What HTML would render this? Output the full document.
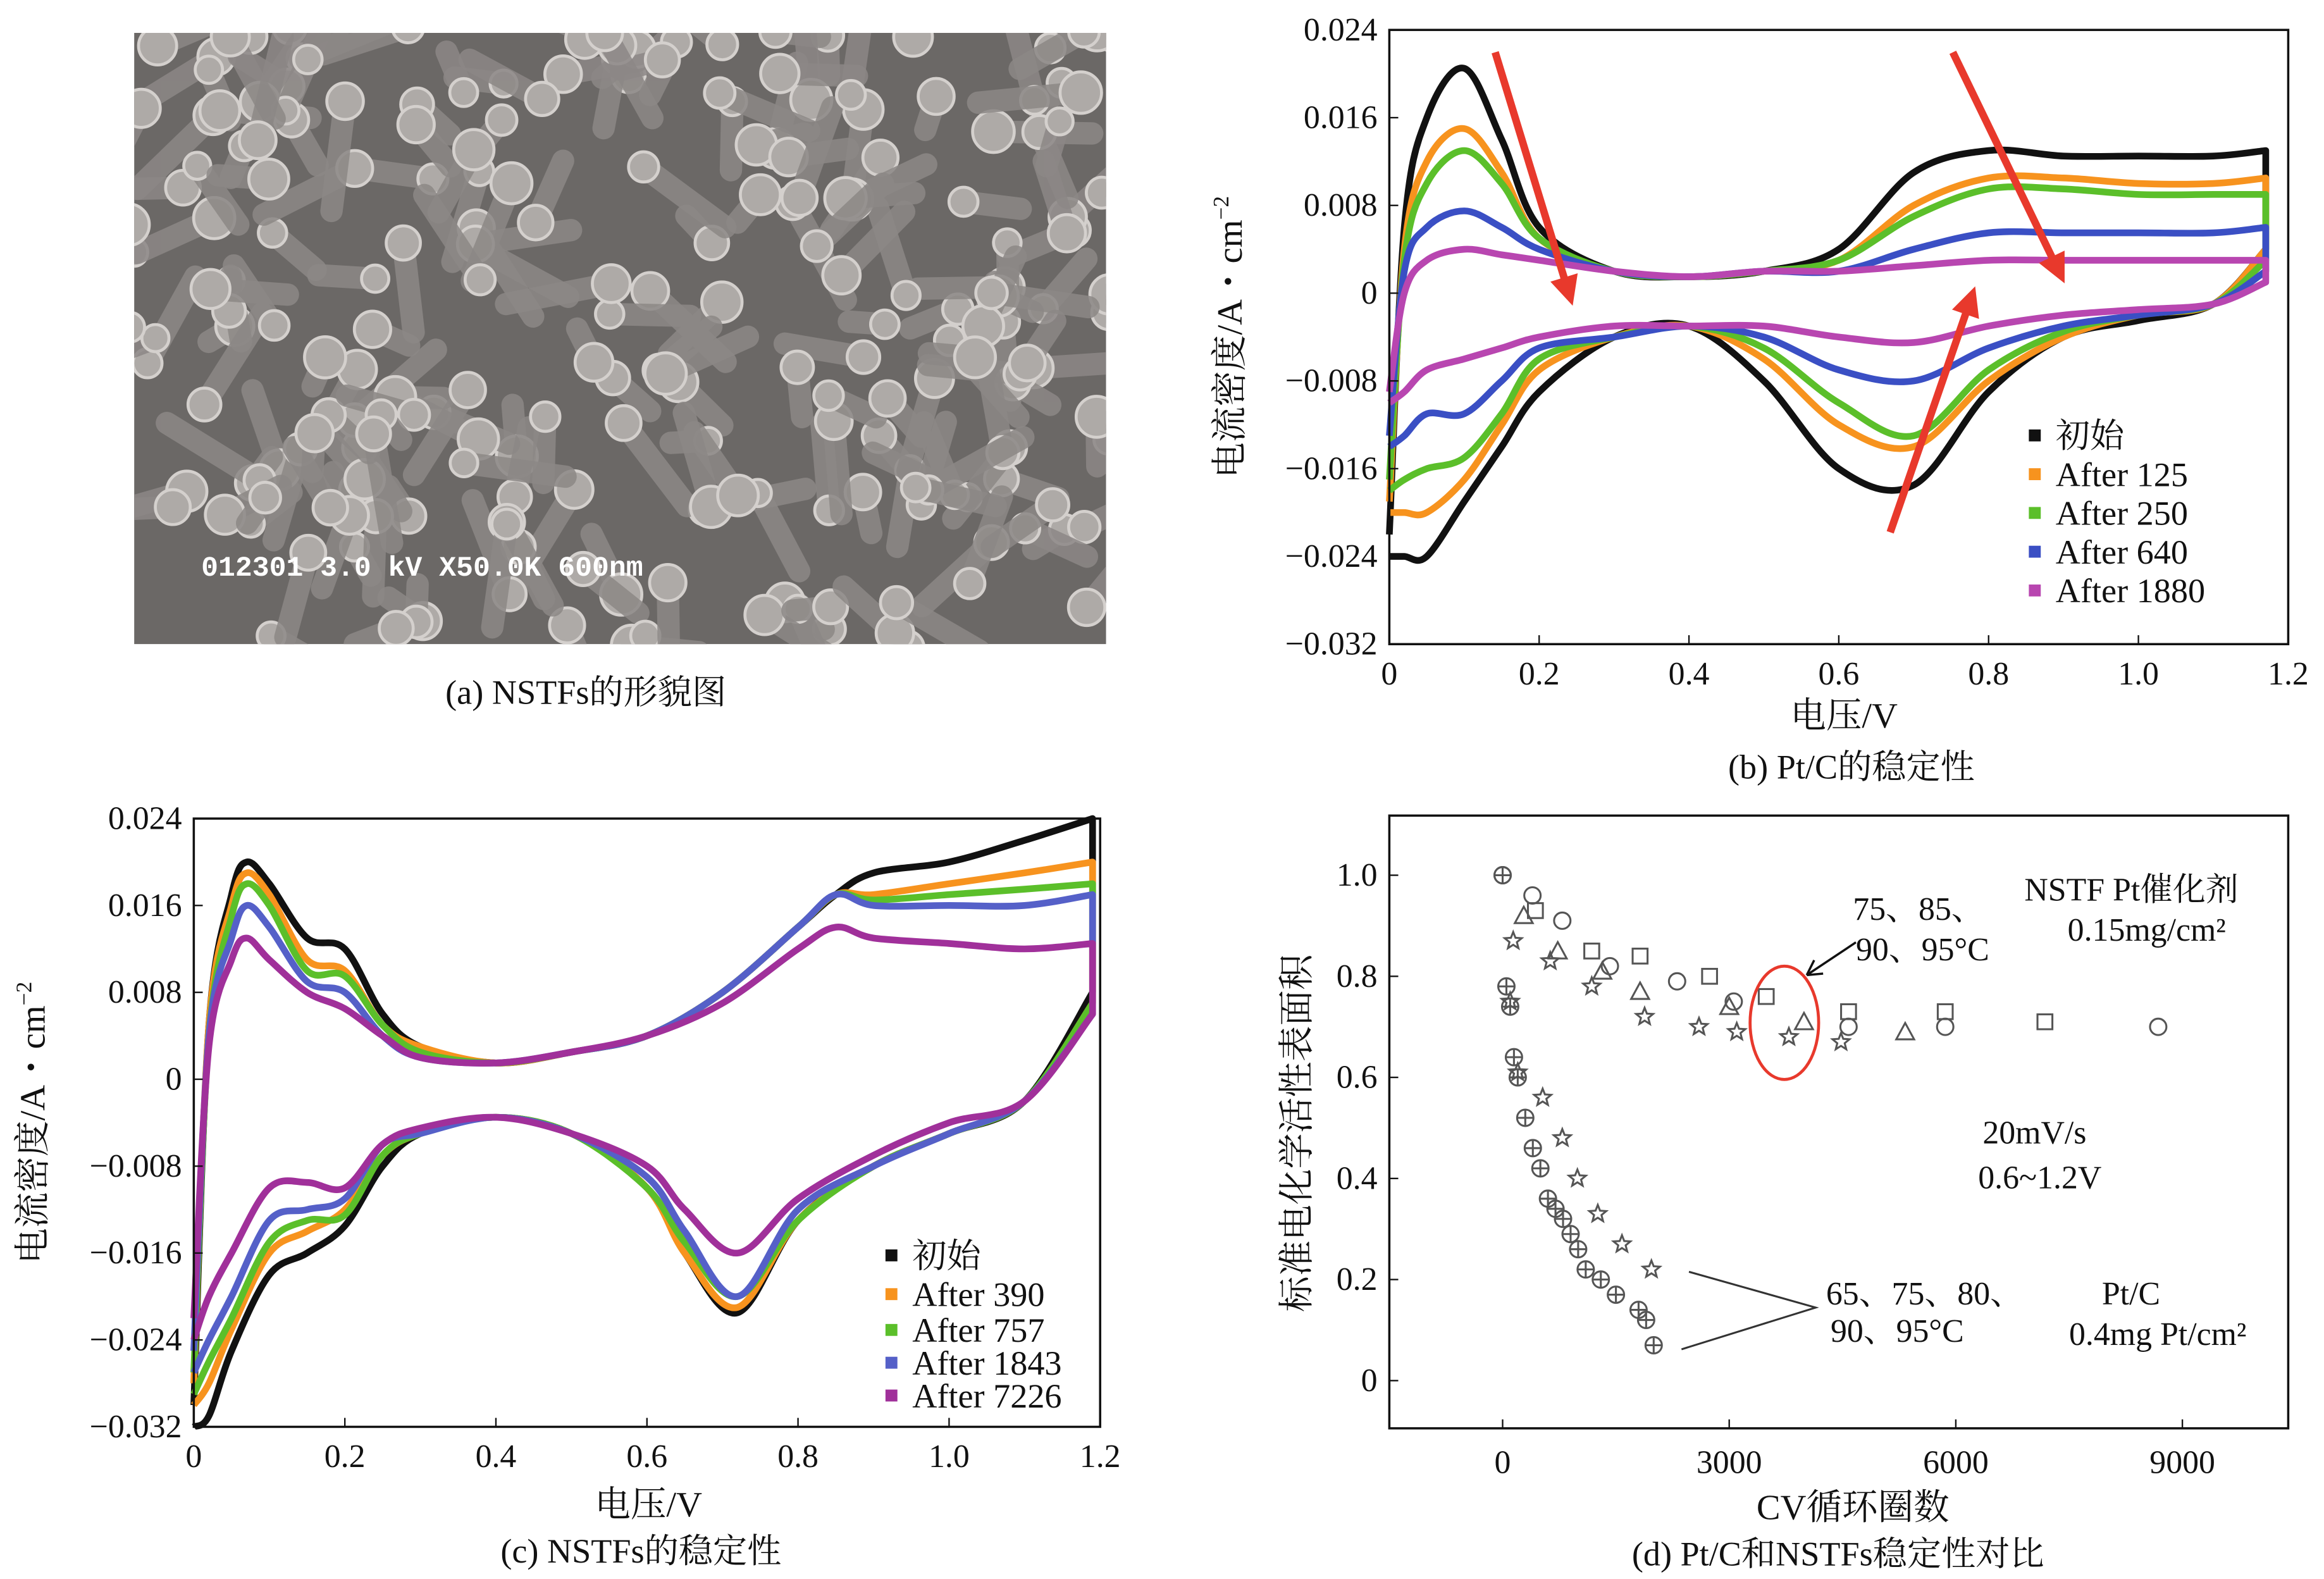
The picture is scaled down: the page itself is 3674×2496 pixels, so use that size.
<!DOCTYPE html>
<html><head><meta charset="utf-8"><style>
html,body{margin:0;padding:0;background:#fff}
svg{display:block}
text{font-family:"Liberation Serif","Noto Serif CJK SC",serif;fill:#111}
</style></head><body>
<svg id="fig" width="3674" height="2496" viewBox="0 0 1559 1059" xmlns="http://www.w3.org/2000/svg">
<defs><clipPath id="semclip"><rect x="90" y="22" width="652" height="410"/></clipPath></defs>
<g id="sem" clip-path="url(#semclip)"></g>
<text x="393" y="472" font-size="23" text-anchor="middle">(a) NSTFs的形貌图</text>
<g id="pb"></g>
<g id="pc"></g>
<g id="pd"></g>
</svg>
<script>
const NS="http://www.w3.org/2000/svg";
function mk(p,t,a,txt){const e=document.createElementNS(NS,t);for(const k in a)e.setAttribute(k,a[k]);if(txt!==undefined)e.textContent=txt;p.appendChild(e);return e;}

// ---------- Panel b data ----------
const bV=[0,0.02,0.05,0.1,0.15,0.2,0.3,0.4,0.5,0.6,0.7,0.8,0.9,1.0,1.1,1.17];
const bLabels=["初始","After 125","After 250","After 640","After 1880"];
const bColors=["#111111","#f7931e","#5bbf2a","#3a4fc4","#b846b0"];
const bBlackUp=[-0.022,0.006,0.016,0.0205,0.014,0.006,0.002,0.0015,0.002,0.004,0.011,0.013,0.0125,0.0125,0.0125,0.013];
const bBlackDn=[-0.024,-0.024,-0.024,-0.019,-0.014,-0.009,-0.004,-0.003,-0.008,-0.016,-0.0175,-0.009,-0.004,-0.0025,-0.001,0.004];
const bOrangeUp=[-0.019,0.004,0.012,0.015,0.011,0.005,0.002,0.0015,0.002,0.003,0.008,0.0105,0.0105,0.010,0.010,0.0105];
const bOrangeDn=[-0.020,-0.020,-0.020,-0.017,-0.012,-0.007,-0.004,-0.003,-0.006,-0.012,-0.014,-0.008,-0.004,-0.002,-0.001,0.004];
const bGreenUp=[-0.017,0.003,0.010,0.013,0.010,0.005,0.002,0.0015,0.002,0.003,0.007,0.0095,0.0095,0.009,0.009,0.009];
const bGreenDn=[-0.018,-0.017,-0.016,-0.015,-0.011,-0.006,-0.004,-0.003,-0.005,-0.010,-0.013,-0.007,-0.0035,-0.002,-0.001,0.003];
const bBlueUp=[-0.013,0.002,0.006,0.0075,0.006,0.004,0.002,0.0015,0.002,0.002,0.004,0.0055,0.0055,0.0055,0.0055,0.006];
const bBlueDn=[-0.014,-0.013,-0.011,-0.011,-0.008,-0.005,-0.004,-0.003,-0.004,-0.007,-0.008,-0.005,-0.003,-0.002,-0.001,0.002];
const bPurpleUp=[-0.009,0.000,0.003,0.004,0.0035,0.003,0.002,0.0015,0.002,0.002,0.0025,0.003,0.003,0.003,0.003,0.003];
const bPurpleDn=[-0.010,-0.009,-0.007,-0.006,-0.005,-0.004,-0.003,-0.003,-0.003,-0.004,-0.0045,-0.003,-0.002,-0.0015,-0.001,0.001];

// ---------- Panel c data ----------
const cVup=[0,0.02,0.05,0.07,0.1,0.15,0.2,0.25,0.3,0.4,0.5,0.6,0.7,0.8,0.85,0.9,1.0,1.1,1.19];
const cVdn=[0,0.02,0.05,0.1,0.15,0.2,0.25,0.3,0.4,0.5,0.6,0.65,0.72,0.8,0.9,1.0,1.1,1.19];
const cLabels=["初始","After 390","After 757","After 1843","After 7226"];
const cColors=["#111111","#f7931e","#5bbf2a","#5560c8","#a0309a"];
const cBlackUp=[-0.030,0.005,0.017,0.020,0.018,0.013,0.012,0.006,0.003,0.0015,0.0025,0.004,0.008,0.014,0.017,0.019,0.020,0.022,0.024];
const cBlackDn=[-0.032,-0.031,-0.025,-0.018,-0.016,-0.0135,-0.008,-0.005,-0.0035,-0.005,-0.010,-0.016,-0.0215,-0.013,-0.008,-0.005,-0.002,0.008];
const cOrangeUp=[-0.028,0.005,0.016,0.019,0.017,0.011,0.010,0.005,0.003,0.0015,0.0025,0.004,0.008,0.014,0.017,0.017,0.018,0.019,0.020];
const cOrangeDn=[-0.030,-0.028,-0.023,-0.016,-0.014,-0.012,-0.007,-0.005,-0.0035,-0.005,-0.010,-0.016,-0.021,-0.013,-0.008,-0.005,-0.002,0.007];
const cGreenUp=[-0.027,0.004,0.015,0.018,0.016,0.010,0.0095,0.005,0.0025,0.0015,0.0025,0.004,0.008,0.014,0.017,0.0165,0.017,0.0175,0.018];
const cGreenDn=[-0.029,-0.026,-0.022,-0.015,-0.013,-0.0125,-0.007,-0.005,-0.0035,-0.005,-0.010,-0.015,-0.020,-0.013,-0.008,-0.005,-0.002,0.007];
const cBlueUp=[-0.025,0.004,0.013,0.016,0.014,0.009,0.008,0.004,0.002,0.0015,0.0025,0.004,0.008,0.014,0.017,0.016,0.016,0.016,0.017];
const cBlueDn=[-0.027,-0.024,-0.020,-0.013,-0.012,-0.011,-0.006,-0.005,-0.0035,-0.005,-0.009,-0.014,-0.020,-0.012,-0.008,-0.005,-0.002,0.006];
const cPurpleUp=[-0.022,0.003,0.011,0.013,0.011,0.008,0.0065,0.004,0.002,0.0015,0.0025,0.004,0.007,0.012,0.014,0.013,0.0125,0.012,0.0125];
const cPurpleDn=[-0.024,-0.020,-0.016,-0.010,-0.0095,-0.010,-0.006,-0.0045,-0.0035,-0.005,-0.008,-0.012,-0.016,-0.011,-0.007,-0.004,-0.002,0.006];

const cvXTicks=["0","0.2","0.4","0.6","0.8","1.0","1.2"];
const cvYTicks=[0.024,0.016,0.008,0,-0.008,-0.016,-0.024,-0.032];
const cvYTickLabels=["0.024","0.016","0.008","0","−0.008","−0.016","−0.024","−0.032"];

// ---------- Panel d data ----------
const dXTicks=[0,3000,6000,9000];
const dYTicks=[0,0.2,0.4,0.6,0.8,1.0];
const ptcCrossX=[0,50,100,150,200,300,400,500,600,700,800,900,1000,1100,1300,1500,1800,1900,2000];
const ptcCrossY=[1.0,0.78,0.74,0.64,0.6,0.52,0.46,0.42,0.36,0.34,0.32,0.29,0.26,0.22,0.2,0.17,0.14,0.12,0.07];
const ptcStarX=[100,200,530,790,990,1260,1580,1970];
const ptcStarY=[0.75,0.61,0.56,0.48,0.40,0.33,0.27,0.22];
const nCircX=[0,395,790,1420,2310,3060,4580,5860,8680];
const nCircY=[1.0,0.96,0.91,0.82,0.79,0.75,0.70,0.70,0.70];
const nSqX=[434,1180,1820,2740,3490,4580,5860,7180];
const nSqY=[0.93,0.85,0.84,0.80,0.76,0.73,0.73,0.71];
const nTriX=[280,730,1320,1820,3000,3990,5330];
const nTriY=[0.92,0.85,0.81,0.77,0.74,0.71,0.69];
const nStarX=[140,630,1180,1880,2600,3100,3790,4480];
const nStarY=[0.87,0.83,0.78,0.72,0.70,0.69,0.68,0.67];

// ---------- SEM decoration ----------
(function(){
 const g=document.getElementById('sem');
 mk(g,'rect',{x:90,y:22,width:652,height:410,fill:'#6b6866',});
 let s=7;function r(){s=(s*9301+49297)%233280;return s/233280;}
 for(let i=0;i<220;i++){const x=85+r()*665,y=18+r()*420,a=r()*6.28,l=20+r()*55;
  const l1=mk(g,'line',{x1:x,y1:y,x2:x+Math.cos(a)*l,y2:y+Math.sin(a)*l,stroke:'#8c8886','stroke-width':15,'stroke-linecap':'round','opacity':0.85});
  
  const c=mk(g,'circle',{cx:x,cy:y,r:9+r()*5,fill:'#aeaaa7',stroke:'#d4d0cd','stroke-width':2});
  }
 mk(g,'text',{x:135,y:386,'font-size':19,fill:'#fff',style:'fill:#fff;font-family:"Liberation Mono",monospace;font-weight:bold',},'012301 3.0 kV X50.0K  600nm');
})();

function smooth(pts){let d='M'+pts[0][0]+','+pts[0][1];
 for(let i=0;i<pts.length-1;i++){const p0=pts[Math.max(i-1,0)],p1=pts[i],p2=pts[i+1],p3=pts[Math.min(i+2,pts.length-1)];
  d+=' C'+(p1[0]+(p2[0]-p0[0])/6)+','+(p1[1]+(p2[1]-p0[1])/6)+' '+(p2[0]-(p3[0]-p1[0])/6)+','+(p2[1]-(p3[1]-p1[1])/6)+' '+p2[0]+','+p2[1];}
 return d;}

function cvPanel(id,box,series,vUp,vDn,labels,colors,legend,xl,cap){
 const g=document.getElementById(id);
 const X=v=>box.x0+(v/1.2)*(box.x1-box.x0);
 const Y=j=>box.y0+(0.024-j)/0.056*(box.y1-box.y0);
 series.forEach((s,i)=>{
  const up=vUp.map((v,k)=>[X(v),Y(s[0][k])]);
  const dn=vDn.map((v,k)=>[X(v),Y(s[1][k])]).reverse();
  const p=mk(g,'path',{d:smooth(up)+' L'+dn[0][0]+','+dn[0][1]+' '+smooth(dn).slice(1).replace(/^[^C]*/,''),fill:'none',stroke:colors[i],'stroke-width':4.5,'stroke-linejoin':'round'});
  
 });
 const fr=mk(g,'rect',{x:box.x0,y:box.y0,width:box.x1-box.x0,height:box.y1-box.y0,fill:'none',stroke:'#111','stroke-width':1.5});
 
 cvXTicks.forEach((t,i)=>{const x=X(i*0.2);
  mk(g,'line',{x1:x,y1:box.y1,x2:x,y2:box.y1-6,stroke:'#111'});
  const e=mk(g,'text',{x:x,y:box.y1+27,'font-size':22,'text-anchor':'middle'},t);
  });
 cvYTicks.forEach((t,i)=>{const y=Y(t);
  mk(g,'line',{x1:box.x0,y1:y,x2:box.x0+6,y2:y,stroke:'#111'});
  const e=mk(g,'text',{x:box.x0-8,y:y+7,'font-size':22,'text-anchor':'end'},cvYTickLabels[i]);
  });
 const xt=mk(g,'text',{x:xl[0],y:xl[1],'font-size':24,'text-anchor':'middle'},'电压/V');
 
 const yt=mk(g,'text',{transform:'translate('+xl[2]+','+((box.y0+box.y1)/2)+') rotate(-90)','font-size':24,'text-anchor':'middle'});
 
 yt.innerHTML='电流密度/A・cm<tspan dy="-9" font-size="15">−2</tspan>';
 labels.forEach((l,i)=>{const y=legend.y[i];
  const m=mk(g,'rect',{x:legend.x-4,y:y-4,width:8,height:8,fill:colors[i]});
  
  const t=mk(g,'text',{x:legend.x+14,y:y+8,'font-size':legend.fs},l);
  });
 const c=mk(g,'text',{x:cap[0],y:cap[1],'font-size':23,'text-anchor':'middle'},cap[2]);
 
 return g;
}

const gb=cvPanel('pb',{x0:932,x1:1535,y0:20,y1:432},
 [[bBlackUp,bBlackDn],[bOrangeUp,bOrangeDn],[bGreenUp,bGreenDn],[bBlueUp,bBlueDn],[bPurpleUp,bPurpleDn]],
 bV,bV,bLabels,bColors,{x:1365,y:[292,318,344,370,396],fs:23},[1237,488,833],[1242,522,'(b) Pt/C的稳定性']);
[[1003,35,1055,205],[1310,35,1385,190],[1268,357,1325,192]].forEach(a=>{
 const ang=Math.atan2(a[3]-a[1],a[2]-a[0]);
 const l=mk(gb,'line',{x1:a[0],y1:a[1],x2:a[2]-Math.cos(ang)*14,y2:a[3]-Math.sin(ang)*14,stroke:'#e8392c','stroke-width':5});
 
 const h=mk(gb,'polygon',{points:[a[2],a[3],a[2]-Math.cos(ang-0.45)*22,a[3]-Math.sin(ang-0.45)*22,a[2]-Math.cos(ang+0.45)*22,a[3]-Math.sin(ang+0.45)*22].join(','),fill:'#e8392c'});
 
});

cvPanel('pc',{x0:130,x1:738,y0:549,y1:957},
 [[cBlackUp,cBlackDn],[cOrangeUp,cOrangeDn],[cGreenUp,cGreenDn],[cBlueUp,cBlueDn],[cPurpleUp,cPurpleDn]],
 cVup,cVdn,cLabels,cColors,{x:598,y:[842,868,892,914,936],fs:23},[435,1017,30],[430,1048,'(c) NSTFs的稳定性']);
</script>
<script>
(function(){
 const g=document.getElementById('pd');
 const box={x0:932,x1:1535,y0:547,y1:958};
 const X=c=>1008+c/3000*152, Y=v=>926-v*339;
 const fr=mk(g,'rect',{x:box.x0,y:box.y0,width:box.x1-box.x0,height:box.y1-box.y0,fill:'none',stroke:'#111','stroke-width':1.5});
 
 dXTicks.forEach(t=>{const x=X(t);mk(g,'line',{x1:x,y1:box.y1,x2:x,y2:box.y1-6,stroke:'#111'});
  const e=mk(g,'text',{x:x,y:box.y1+30,'font-size':22,'text-anchor':'middle'},String(t));
  });
 dYTicks.forEach(t=>{const y=Y(t);mk(g,'line',{x1:box.x0,y1:y,x2:box.x0+6,y2:y,stroke:'#111'});
  const e=mk(g,'text',{x:box.x0-8,y:y+7,'font-size':22,'text-anchor':'end'},t===0?'0':t.toFixed(1));
  });
 const st={fill:'none',stroke:'#555','stroke-width':1.3};
 function marker(type,x,y){let e;
  if(type==='circ'){e=mk(g,'circle',Object.assign({cx:x,cy:y,r:5.5},st));}
  else if(type==='sq'){e=mk(g,'rect',Object.assign({x:x-5,y:y-5,width:10,height:10},st));}
  else if(type==='tri'){e=mk(g,'polygon',Object.assign({points:[x,y-6,x-6,y+5,x+6,y+5].join(',')},st));}
  else if(type==='star'){let p=[];for(let k=0;k<10;k++){const r=k%2?2.6:6,a=-Math.PI/2+k*Math.PI/5;p.push(x+r*Math.cos(a),y+r*Math.sin(a));}
   e=mk(g,'polygon',Object.assign({points:p.join(',')},st));}
  else {e=mk(g,'g',{});mk(e,'circle',Object.assign({cx:x,cy:y,r:5.5},st));mk(e,'path',Object.assign({d:'M'+(x-5.5)+','+y+'h11M'+x+','+(y-5.5)+'v11'},st));}
  }
 ptcCrossX.forEach((c,i)=>marker('cross',X(c),Y(ptcCrossY[i])));
 ptcStarX.forEach((c,i)=>marker('star',X(c),Y(ptcStarY[i])));
 nCircX.forEach((c,i)=>marker('circ',X(c),Y(nCircY[i])));
 nSqX.forEach((c,i)=>marker('sq',X(c),Y(nSqY[i])));
 nTriX.forEach((c,i)=>marker('tri',X(c),Y(nTriY[i])));
 nStarX.forEach((c,i)=>marker('star',X(c),Y(nStarY[i])));
 const el=mk(g,'ellipse',{cx:1197,cy:686,rx:23,ry:38,fill:'none',stroke:'#e8392c','stroke-width':2});
 
 const ar=mk(g,'path',{d:'M1245,632 L1212,654 M1212,654 l5,-10 M1212,654 l11,-1',fill:'none',stroke:'#111','stroke-width':1.5});
 
 const br=mk(g,'path',{d:'M1133,853 L1218,877 L1128,905',fill:'none',stroke:'#333','stroke-width':1.3});
 
 [["75、85、",1243,617],["90、95°C",1245,644],["NSTF Pt催化剂",1358,604],["0.15mg/cm²",1387,631],["20mV/s",1330,767],["0.6~1.2V",1327,797],["65、75、80、",1225,875],["90、95°C",1228,900],["Pt/C",1410,875],["0.4mg Pt/cm²",1388,902]].forEach(a=>{
  const t=mk(g,'text',{x:a[1],y:a[2],'font-size':22},a[0]);
  });
 const xt=mk(g,'text',{x:1243,y:1019,'font-size':24,'text-anchor':'middle'},'CV循环圈数');
 
 const yt=mk(g,'text',{transform:'translate(878,760) rotate(-90)','font-size':24,'text-anchor':'middle'},'标准电化学活性表面积');
 
 const c=mk(g,'text',{x:1233,y:1050,'font-size':23,'text-anchor':'middle'},'(d) Pt/C和NSTFs稳定性对比');
 
})();
</script>
</body></html>
